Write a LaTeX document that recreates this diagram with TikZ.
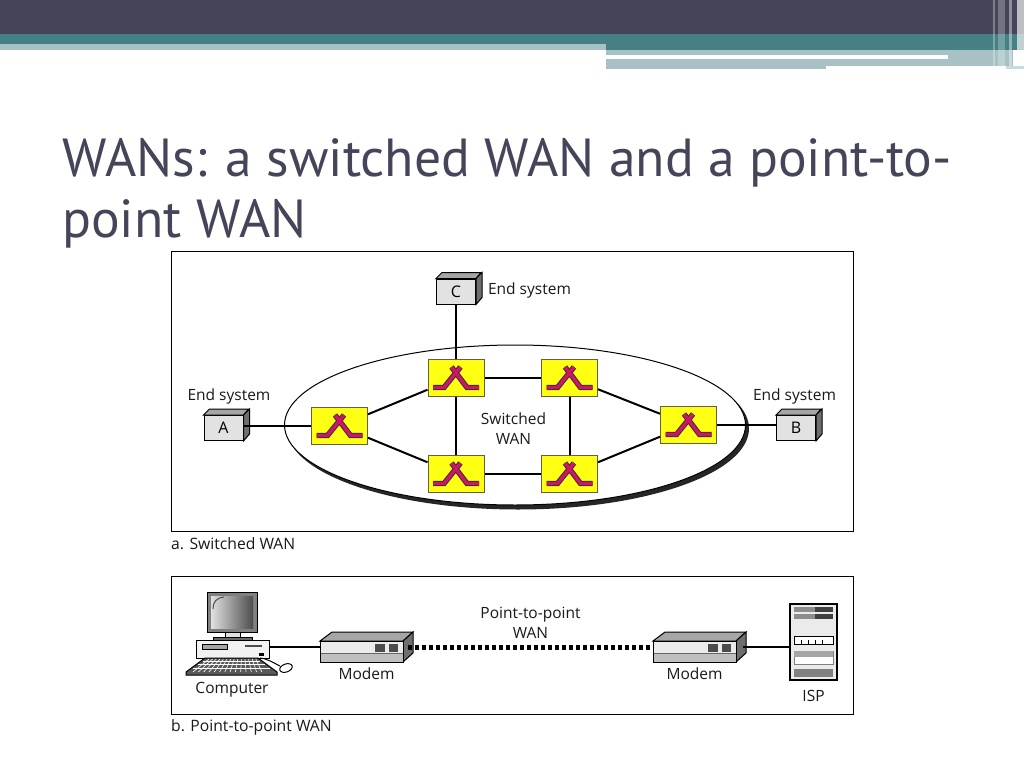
\documentclass[tikz,border=0pt]{standalone}
\usepackage{fontspec}
\setmainfont{Open Sans}
\newfontfamily\titlefont{PT Sans}
\usetikzlibrary{shapes,arrows,positioning}
\definecolor{slate}{HTML}{45455A}
\definecolor{teal1}{HTML}{458084}
\definecolor{teal2}{HTML}{A8C1C4}
\definecolor{boxgray}{HTML}{E2E2E2}
\definecolor{sideg}{HTML}{6E6E6E}
\definecolor{topg}{HTML}{A6A6A6}
\definecolor{swyellow}{HTML}{FFFF14}
\definecolor{swred}{HTML}{D0146A}
\tikzstyle{frame} = [draw, line width=1pt, fill=white]
\tikzstyle{link} = [draw, line width=2pt]
\tikzstyle{dotlink} = [draw, line width=5pt, dash pattern=on 4pt off 3pt]
\tikzstyle{swnode} = [rectangle, draw=black!70!yellow, line width=1pt, fill=swyellow, minimum width=56pt, minimum height=37pt, inner sep=0pt]
\tikzstyle{endbox} = [rectangle, draw, line width=1pt, fill=boxgray, minimum width=39pt, minimum height=25pt, inner sep=0pt, font=\fontsize{16}{16}\selectfont]
\tikzstyle{lbl} = [font=\fontsize{15.5}{20}\selectfont, text=black!90, align=center, inner sep=0pt]
\tikzstyle{capnode} = [font=\fontsize{15.7}{18}\selectfont, text=black!90, anchor=west, inner sep=0pt]
\tikzstyle{hidden} = [rectangle, inner sep=0pt, minimum height=30pt]
% switch symbol, #1 is the node
\newcommand{\swsym}[1]{
	\foreach \w/\c in {5.4pt/black!80, 3.4pt/swred} {
		\draw [line width=\w, color=\c, line join=miter] ([shift={(-23,9.5)}]#1.center) -- ([shift={(-12,9.5)}]#1.center) -- ([shift={(4.5,-11)}]#1.center);
		\draw [line width=\w, color=\c, line join=miter] ([shift={(23,9.5)}]#1.center) -- ([shift={(11,9.5)}]#1.center) -- ([shift={(-4.5,-11)}]#1.center);
	}
}
% grey box faces round a node
\newcommand{\boxfaces}[1]{
	\draw [line width=1pt, fill=topg] (#1.north west) -- ++(6,-6) -- ++(39,0) -- (#1.north east) -- cycle;
	\draw [line width=1pt, fill=sideg] (#1.north east) -- ++(6,-6) -- ++(0,25) -- (#1.south east) -- cycle;
}
% modem, #1 left edge of the front
\newcommand{\modembody}[1]{
	\begin{scope}[xshift=#1pt]
		\draw [line width=1pt, fill=topg] (0,641) -- (12,632) -- (93,632) -- (83,641) -- cycle;
		\draw [line width=1pt, fill=sideg] (83,641) -- (93,632) -- (93,653) -- (83,662) -- cycle;
		\draw [line width=1pt, fill=black!8] (0,641) rectangle (83,662);
		\fill [black!25] (0,653) rectangle (83,662);
		\draw [line width=1pt, black!60] (0,653) -- (83,653);
		\draw [line width=1pt] (0,641) rectangle (83,662);
		\fill [black!70] (55,644) rectangle (65,652);
		\fill [black!70] (69,644) rectangle (78,652);
	\end{scope}
}
\begin{document}
\begin{tikzpicture}[x=1pt, y=-1pt]
	\useasboundingbox (0,0) rectangle (1024,768);
	% header bands
	\fill [slate] (0,0) rectangle (1024,34);
	\fill [teal2] (0,44) rectangle (606,50);
	\fill [teal1] (0,34) rectangle (606,44);
	\fill [teal1] (606,34) rectangle (1024,50);
	\fill [teal2] (606,50) rectangle (1013,66);
	\fill [teal2] (606,66) rectangle (826,69);
	\fill [white] (606,55) rectangle (948,59);
	\foreach \x/\w/\o in {993/2/.3, 998/7/.25, 1009/3/.4, 1017/7/.65} {
		\fill [white, opacity=\o] (\x,0) rectangle ++(\w,66);
	}
	\fill [teal2!60] (1006,66) rectangle (1024,69);

	\node [anchor=west, inner sep=0pt, text=slate, font=\titlefont\fontsize{53.6}{61}\selectfont, align=left] (title) at (62,193.5) {WANs: a switched WAN and a point-to-\\point WAN};

	\draw [frame] (171,251) rectangle (853,531);
	\draw [frame] (171,576) rectangle (853,714);

	% ellipse with its shadow
	\fill [black!85] (518,428.5) ellipse [x radius=231, y radius=81];
	\draw [line width=1pt, fill=white] (515,425) ellipse [x radius=230.5, y radius=80];

	% switched WAN
	\node [swnode] (sw1) at (339.5,426) {};
	\node [swnode] (sw2) at (456,378) {};
	\node [swnode] (sw3) at (569.5,378) {};
	\node [swnode] (sw4) at (456,474) {};
	\node [swnode] (sw5) at (569.5,474) {};
	\node [swnode] (sw6) at (688.5,425) {};
	\node [endbox] (a) at (223.5,428) {A};
	\node [endbox] (b) at (796,428) {B};
	\node [endbox] (c) at (456,291.5) {C};
	\boxfaces{a}
	\boxfaces{b}
	\boxfaces{c}
	\swsym{sw1}
	\swsym{sw2}
	\swsym{sw3}
	\swsym{sw4}
	\swsym{sw5}
	\swsym{sw6}

	\path [link] (c) -- (sw2);
	\path [link] (a.east |- sw1) -- (sw1);
	\path [link] (sw6) -- (b.west |- sw6);
	\path [link] (sw1) -- (sw2);
	\path [link] (sw1) -- (sw4);
	\path [link] (sw2) -- (sw3);
	\path [link] (sw2) -- (sw4);
	\path [link] (sw3) -- (sw5);
	\path [link] (sw4) -- (sw5);
	\path [link] (sw3) -- (sw6);
	\path [link] (sw5) -- (sw6);

	\node [lbl] (esc) at (529.5,290) {End system};
	\node [lbl] (esa) at (229,396) {End system};
	\node [lbl] (esb) at (794.5,396) {End system};
	\node [lbl] (swan) at (513.5,428.5) {Switched\\WAN};
	\node [capnode] (capa) at (171,544) {a. Switched WAN};

	% point-to-point WAN
	\node [hidden, minimum width=73pt] (computer) at (232.5,647) {};
	\node [hidden, minimum width=93pt] (modem1) at (366.5,647) {};
	\node [hidden, minimum width=93pt] (modem2) at (699.5,647) {};
	\node [hidden, minimum width=47pt] (isp) at (813.5,647) {};

	\path [link] (computer) -- (modem1);
	\modembody{320}
	\modembody{653}
	\path [dotlink, shorten <=-5pt] (modem1) -- (modem2);
	\path [link, shorten <=-3pt] (modem2) -- (isp);

	% computer
	\draw [line width=1pt, fill=black!12] (225,631) rectangle (240,638);
	\draw [line width=1pt, fill=black!60] (213,637) rectangle (252,640);
	\draw [line width=1pt, fill=black!50] (207,592) rectangle (257,632);
	\shade [left color=black!12, right color=black!70] (211,596) rectangle (253,628);
	\draw [black!70, line width=1pt] (213,609) .. controls (213,602) and (216,598) .. (224,597);
	\draw [line width=1pt, fill=black!5] (196,640) rectangle (269,658);
	\draw [line width=.8pt, fill=black!35] (202,644) rectangle (227,649);
	\draw [line width=1.5pt, black!70] (245,646) -- (262,646);
	\fill [black] (259,653) rectangle (264,656);
	\draw [line width=1pt] (260,658) .. controls (268,659) and (272,662) .. (280,666);
	\draw [line width=1pt, fill=white, rotate around={20:(286,668)}] (286,668) ellipse [x radius=6.5, y radius=4];
	\draw [line width=1pt, fill=black!65] (205,658) -- (258,658) -- (277,672) -- (277,675) -- (186,675) -- (186,672) -- cycle;
	\foreach \i in {0,1,2} {
		\draw [white, line width=.8pt] (203-\i*5,661+\i*3.5) -- (260+\i*5,661+\i*3.5);
	}
	\foreach \i in {0,...,13} {
		\draw [white, line width=.6pt] (209+\i*3.6,659) -- (193+\i*5.3,672);
	}

	% server
	\draw [line width=1.5pt, fill=black!8] (790,604) rectangle (837,680);
	\fill [black!45] (794,607) rectangle (815,612);
	\fill [black!75] (815,607) rectangle (833,612);
	\fill [black!45] (794,614) rectangle (815,619);
	\fill [black!75] (815,614) rectangle (833,619);
	\draw [line width=.8pt, fill=white] (794,636) rectangle (833,644);
	\foreach \x in {801,808,815,822} {
		\draw [line width=.7pt] (\x,644) -- (\x,640);
	}
	\draw [line width=.8pt, black!50, fill=white] (794,651) rectangle (833,664);
	\fill [black!35] (794,651) rectangle (833,657);
	\fill [black!50] (794,669) rectangle (833,677);

	\node [lbl] (ptp) at (530.5,623) {Point-to-point\\WAN};
	\node [lbl] (lcomp) at (232,690) {Computer};
	\node [lbl] (lm1) at (366.5,674) {Modem};
	\node [lbl] (lm2) at (694.5,674) {Modem};
	\node [lbl] (lisp) at (813.5,695.5) {ISP};
	\node [capnode] (capb) at (171,727) {b. Point-to-point WAN};
\end{tikzpicture}
\end{document}
